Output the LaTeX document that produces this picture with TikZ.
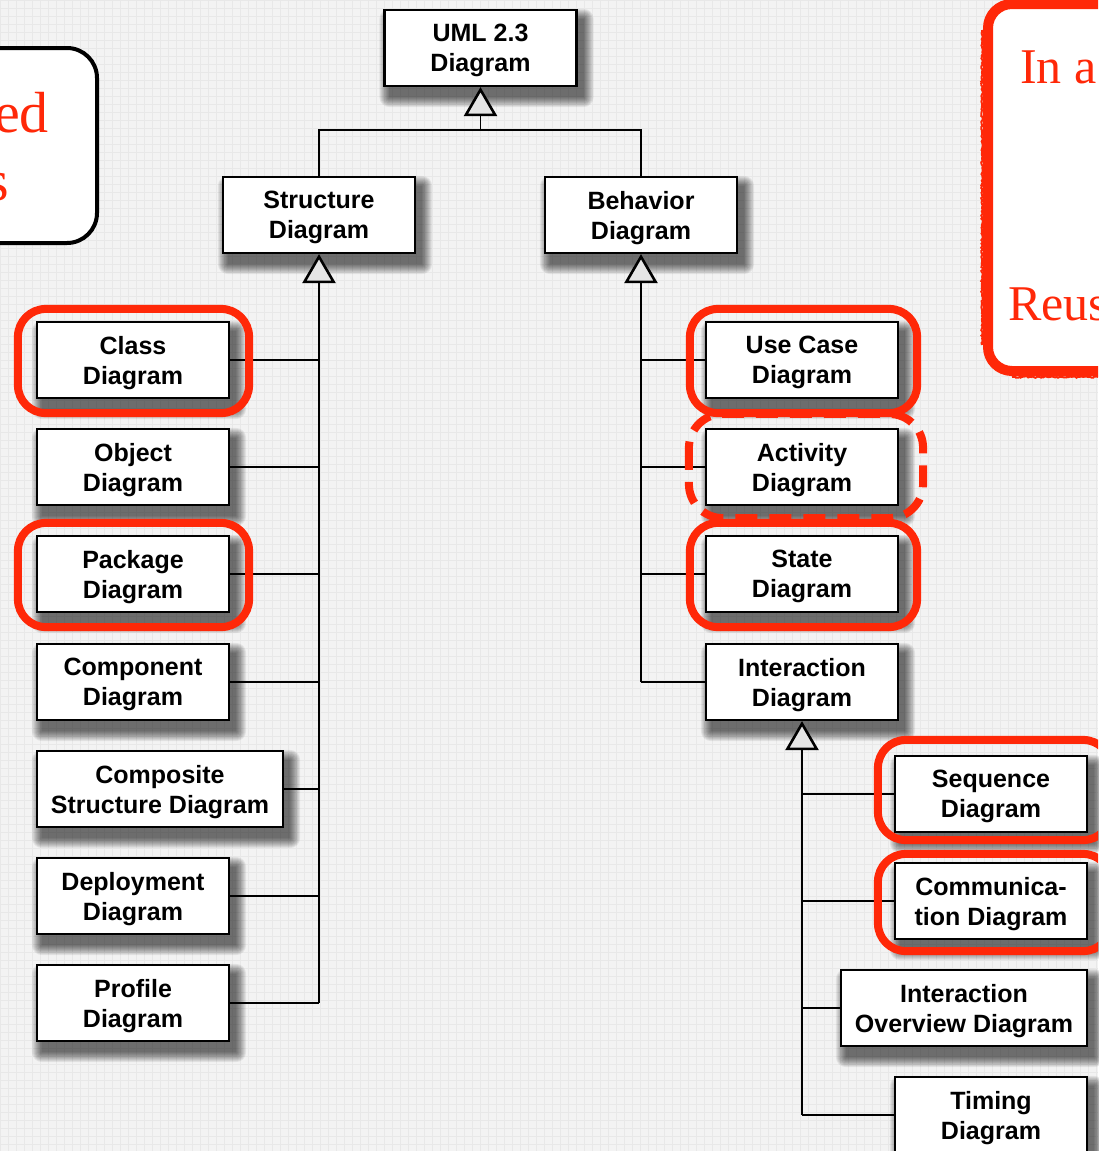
\documentclass[tikz,border=0pt]{standalone}
\usepackage{fontspec}
\setmainfont{Liberation Serif}
\newfontfamily\boxfont{Liberation Sans}
\usetikzlibrary{arrows.meta,backgrounds,decorations.pathmorphing,calc}
\definecolor{hired}{RGB}{255,40,8}
\definecolor{paper}{RGB}{243,243,243}
\definecolor{gridline}{RGB}{232,232,232}

% soft drop shadow behind a rectangular node: stacked translucent fills
\newcommand\softshadow[1]{%
  \foreach \k in {0,...,10}{%
    \fill[black, opacity=0.065, rounded corners=\k pt]
      ($(#1.north west)+(6-\k,10-\k)$) rectangle ($(#1.south east)+(6+\k,10+\k)$);
  }}

\begin{document}
\begin{tikzpicture}[x=1pt,y=-1pt,
  diag/.style={draw=black, line width=2.2pt, fill=white, minimum width=192pt,
    minimum height=76pt, inner sep=0pt, align=center, text depth=0pt,
    font=\boxfont\bfseries\fontsize{25}{30}\selectfont},
  wide/.style={diag, minimum width=246pt},
  link/.style={line width=1.6pt},
  gen/.style={line width=1.8pt,
    -{Triangle[open, length=29pt, width=33pt, line width=2.6pt, fill=white!90!black]}},
  hl/.style={draw=hired, line width=8pt, rounded corners=28pt},
  hldash/.style={hl, rounded corners=34pt, dash pattern=on 22pt off 12pt},
  note/.style={text=hired, inner sep=0pt, font=\fontsize{58}{68}\selectfont},
  rnote/.style={note, font=\fontsize{50}{60}\selectfont},
  rough/.style={hired, line width=2pt, decorate,
    decoration={random steps, segment length=1.5pt, amplitude=0.8pt}},
]
\useasboundingbox (0,0) rectangle (1098,1151);
\clip (0,0) rectangle (1098,1151);

% side notes
\draw[line width=4pt, fill=white, rounded corners=30pt] (-60,48) rectangle (97,243);
\node[note, anchor=base east] (leftA) at (49,132) {ed};
\node[note, anchor=base east] (leftB) at (9,200) {s};

\pgfmathsetseed{7}
\draw[hired, line width=10pt, fill=white, rounded corners=24pt]
  (988,4) rectangle (1140,371);
\draw[rough] (982,30) -- (982,345);
\draw[rough] (1012,377) -- (1098,377);
\node[rnote, anchor=base west] (rightA) at (1020,83) {In a};
\node[rnote, anchor=base west] (rightB) at (1008,320) {Reus};

% diagram kinds
\node[diag] (uml) at (480.5,48) {UML 2.3\\Diagram};
\node[diag] (str) at (319,215) {Structure\\Diagram};
\node[diag] (beh) at (641,215) {Behavior\\Diagram};

\node[diag] (cls) at (133,360)  {Class\\Diagram};
\node[diag] (obj) at (133,467)  {Object\\Diagram};
\node[diag] (pkg) at (133,574)  {Package\\Diagram};
\node[diag] (cmp) at (133,682)  {Component\\Diagram};
\node[wide] (cst) at (160,789)  {Composite\\Structure Diagram};
\node[diag] (dep) at (133,896)  {Deployment\\Diagram};
\node[diag] (prf) at (133,1003) {Profile\\Diagram};

\node[diag] (use) at (802,360) {Use Case\\Diagram};
\node[diag] (act) at (802,467) {Activity\\Diagram};
\node[diag] (sta) at (802,574) {State\\Diagram};
\node[diag] (itr) at (802,682) {Interaction\\Diagram};

\node[diag] (seq) at (991,794)  {Sequence\\Diagram};
\node[diag] (com) at (991,901)  {Communica-\\tion Diagram};
\node[wide] (iov) at (964,1008) {Interaction\\Overview Diagram};
\node[diag] (tim) at (991,1115) {Timing\\Diagram};

% paper, grid and shadows underneath everything
\begin{pgfonlayer}{background}
  \fill[paper] (0,0) rectangle (1098,1151);
  \draw[gridline, line width=0.8pt, step=8pt] (0,0) grid (1098,1151);
  \foreach \n in {uml,str,beh,cls,obj,pkg,cmp,cst,dep,prf,
                  use,act,sta,itr,seq,com,iov,tim}
    {\softshadow{\n}}
\end{pgfonlayer}

% generalisation: top level
\coordinate (join) at (480.5,130);
\draw[link] (str.north) |- (join) -| (beh.north);
\draw[gen] (join) -- (uml.south);

% structure diagrams
\coordinate (sEnd) at (str.south |- prf.east);
\draw[gen] (sEnd) -- (str.south);
\foreach \n in {cls,obj,pkg,cmp,cst,dep,prf}
  \draw[link] (\n.east) -- (\n.east -| str.south);

% behavior diagrams
\coordinate (bEnd) at (beh.south |- itr.west);
\draw[gen] (bEnd) -- (beh.south);
\foreach \n in {use,act,sta,itr}
  \draw[link] (\n.west) -- (\n.west -| beh.south);

% interaction diagrams
\coordinate (iEnd) at (itr.south |- tim.west);
\draw[gen] (iEnd) -- (itr.south);
\foreach \n in {seq,com,iov,tim}
  \draw[link] (\n.west) -- (\n.west -| itr.south);

% highlight frames (the dashed one sits underneath its neighbours)
\draw[hldash] ($(act.north west)+(-16,-14)$) rectangle ($(act.south east)+(24,12)$);
\draw[hl] ($(cls.north west)+(-18,-12)$) rectangle ($(cls.south east)+(19,14)$);
\draw[hl] ($(pkg.north west)+(-18,-12)$) rectangle ($(pkg.south east)+(19,14)$);
\draw[hl] ($(use.north west)+(-15,-12)$) rectangle ($(use.south east)+(18,14)$);
\draw[hl] ($(sta.north west)+(-15,-12)$) rectangle ($(sta.south east)+(18,14)$);
\draw[hl] ($(seq.north west)+(-16,-15)$) rectangle ($(seq.south east)+(23,7)$);
\draw[hl] ($(com.north west)+(-16,-8)$) rectangle ($(com.south east)+(23,11)$);
\end{tikzpicture}
\end{document}
